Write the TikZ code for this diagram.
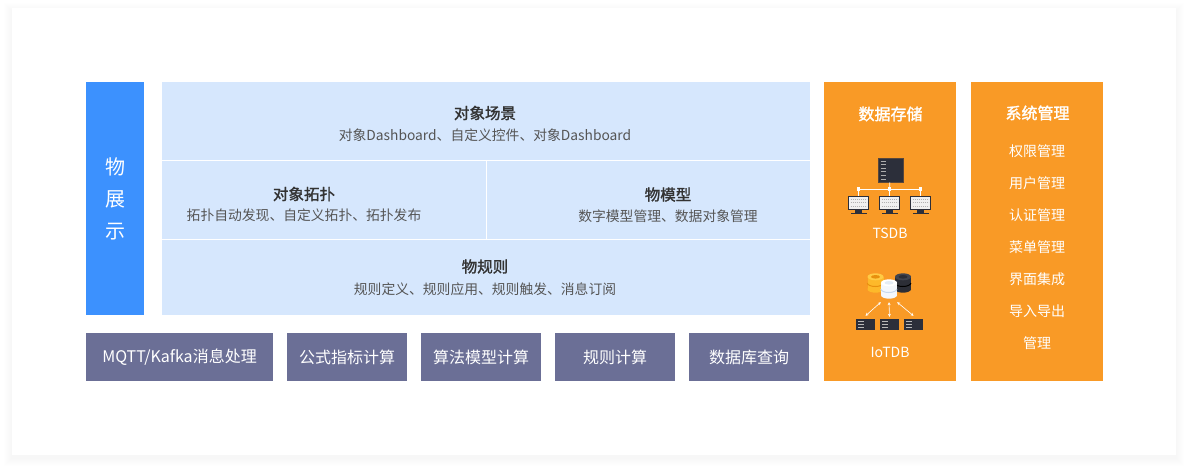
\documentclass[tikz,border=0pt]{standalone}
\usepackage{fontspec}
\setmainfont{Noto Sans CJK SC}
\newfontfamily\medfont[FakeBold=1.6]{Noto Sans CJK SC}
\usetikzlibrary{positioning,arrows.meta}
\definecolor{barblue}{HTML}{3C91FE}
\definecolor{panelblue}{HTML}{D6E7FD}
\definecolor{calcgray}{HTML}{6B6F96}
\definecolor{storeorange}{HTML}{F99A26}
\definecolor{titletext}{HTML}{333333}
\definecolor{subtext}{HTML}{555555}
\definecolor{devdark}{HTML}{2C2F3A}
\definecolor{cylyellow}{HTML}{FDB92A}
\definecolor{cylyellowtop}{HTML}{FFCB45}
\definecolor{cylyellowband}{HTML}{E8900E}
\definecolor{cylblack}{HTML}{2C2E36}
\definecolor{cylblacktop}{HTML}{41444E}
\definecolor{cylwhite}{HTML}{F4F7FB}
\definecolor{cylwhiteband}{HTML}{C7D8EC}
\begin{document}
\begin{tikzpicture}[x=1pt,y=-1pt,
  cell/.style={fill=panelblue, inner sep=0pt},
  head/.style={text=titletext, font=\fontsize{15.5}{18}\medfont, inner sep=0pt},
  sub/.style={text=subtext, font=\fontsize{13.8}{16}\selectfont, inner sep=0pt},
  calc/.style={fill=calcgray, text=white, minimum height=48pt, inner sep=0pt, font=\fontsize{16}{19}\selectfont},
  store/.style={fill=storeorange, minimum width=132pt, minimum height=299pt, inner sep=0pt},
  storehead/.style={text=white, font=\fontsize{16}{19}\medfont, inner sep=0pt},
  item/.style={text=white, font=\fontsize{14}{17}\selectfont, inner sep=0pt},
  screen/.style={fill=gray!12, draw=devdark, line width=1.2pt, minimum width=20pt, minimum height=13pt, inner sep=0pt},
  rack/.style={fill=devdark, minimum width=19pt, minimum height=11pt, inner sep=0pt},
  cylbody/.style={minimum width=16pt, minimum height=12pt, inner sep=0pt},
  conn/.style={white, line width=0.7pt}]
\useasboundingbox (0,0) rectangle (1188,471);
\fill[white] (0,0) rectangle (1188,471);
\foreach \s in {1,...,8}
  \fill[black, opacity=0.0045] (12-\s,8-\s+3) rectangle (1176+\s,455+\s+3);
\fill[white] (12,8) rectangle (1176,455);

\node[fill=barblue, minimum width=58pt, minimum height=233pt, inner sep=0pt, text=white, align=center, font=\fontsize{20}{32}\selectfont] (show) at (115,198.5) {物\\展\\示};

\node[cell, minimum width=648pt, minimum height=78pt] (scene) at (486,121) {};
\node[cell, minimum width=324pt, minimum height=80pt] (topo) at (324,200) {};
\node[cell, minimum width=324pt, minimum height=80pt] (model) at (648,200) {};
\node[cell, minimum width=648pt, minimum height=75pt] (rule) at (486,277.5) {};
\draw[white, line width=1pt] (scene.south west) -- (scene.south east);
\draw[white, line width=1pt] (rule.north west) -- (rule.north east);
\draw[white, line width=1pt] (topo.north east) -- (topo.south east);

\node[head] (sceneT) at (485,113) {对象场景};
\node[sub] (sceneS) at (485,135) {对象Dashboard、自定义控件、对象Dashboard};
\node[head] (topoT) at (304,194) {对象拓扑};
\node[sub] (topoS) at (304,215.5) {拓扑自动发现、自定义拓扑、拓扑发布};
\node[head] (modelT) at (668,194.5) {物模型};
\node[sub] (modelS) at (668,216) {数字模型管理、数据对象管理};
\node[head] (ruleT) at (485,266.5) {物规则};
\node[sub] (ruleS) at (485,289) {规则定义、规则应用、规则触发、消息订阅};

\node[calc, minimum width=187pt] (mqtt) at (179.5,357) {MQTT/Kafka消息处理};
\node[calc, minimum width=120pt] (formula) at (347,357) {公式指标计算};
\node[calc, minimum width=120pt] (algo) at (481,357) {算法模型计算};
\node[calc, minimum width=120pt] (rulecalc) at (615,357) {规则计算};
\node[calc, minimum width=120pt] (dbquery) at (749,357) {数据库查询};

\node[store] (storage) at (890,231.5) {};
\node[store] (system) at (1037,231.5) {};
\node[storehead] (storageT) at (890.5,114) {数据存储};
\node[storehead] (systemT) at (1037.5,113) {系统管理};
\foreach \t [count=\i] in {权限管理,用户管理,认证管理,菜单管理,界面集成,导入导出,管理}
  \node[item] (sys\i) at (1037,119+32*\i) {\t};

\node[fill=devdark, draw=devdark!70!brown, line width=0.6pt, minimum width=25pt, minimum height=24pt, inner sep=0pt] (srv) at (890.5,170) {};
\foreach \r in {0,...,5}
  \draw[gray!65, line width=0.9pt] (880.5,161+3.6*\r) -- (886,161+3.6*\r);
\coordinate (j1) at (858.5,189);
\coordinate (j2) at (889.5,189);
\coordinate (j3) at (920.5,189);
\foreach \i/\x in {1/858.5,2/889.5,3/920.5} {
  \node[screen] (mon\i) at (\x,203) {};
  \foreach \r in {0,1,2}
    \draw[gray!60, line width=0.9pt, dash pattern=on 1.3pt off 0.7pt] (\x-8,199+3.5*\r) -- (\x+8,199+3.5*\r);
  \fill[devdark] (\x-3.5,210) rectangle (\x+3.5,212.5);
  \fill[devdark] (\x-8,212.5) rectangle (\x+8,214);
}
\draw[conn] (srv) -- (j2);
\draw[conn] (j1) -- (j3);
\foreach \i in {1,2,3}
  \draw[conn] (j\i) -- (mon\i);
\foreach \i in {1,2,3}
  \fill[white] (j\i) +(-1.8,-1.8) rectangle +(1.8,1.8);
\node[item] (tsdb) at (890,233) {TSDB};

\node[cylbody, fill=cylyellow] (dbo) at (875.5,283) {};
\fill[cylyellow] (dbo.south) ellipse [x radius=8, y radius=3.5];
\draw[cylyellowband, line width=1pt] (dbo.west) arc [start angle=180, end angle=0, x radius=8, y radius=3.5];
\fill[cylyellowtop] (dbo.north) ellipse [x radius=8, y radius=3.5];
\fill[cylyellowband] (dbo.north) ellipse [x radius=4.5, y radius=1.8];
\node[cylbody, fill=cylblack] (dbk) at (903,283) {};
\fill[cylblack] (dbk.south) ellipse [x radius=8, y radius=3.5];
\draw[black, line width=1pt] (dbk.west) arc [start angle=180, end angle=0, x radius=8, y radius=3.5];
\fill[cylblacktop] (dbk.north) ellipse [x radius=8, y radius=3.5];
\fill[cylblack] (dbk.north) ellipse [x radius=4.5, y radius=1.8];
\node[cylbody, fill=cylwhite] (dbw) at (889,289) {};
\fill[cylwhite] (dbw.south) ellipse [x radius=8, y radius=3.5];
\draw[cylwhiteband, line width=1pt] (dbw.west) arc [start angle=180, end angle=0, x radius=8, y radius=3.5];
\fill[white] (dbw.north) ellipse [x radius=8, y radius=3.5];
\fill[cylwhiteband!50] (dbw.north) ellipse [x radius=4.5, y radius=1.8];

\foreach \i/\x in {1/865.5,2/889.5,3/913.5} {
  \node[rack] (iot\i) at (\x,324.5) {};
  \foreach \r in {0,1,2}
    \draw[gray!55, line width=0.8pt] (\x-7.5,321.5+2.8*\r) -- (\x-2,321.5+2.8*\r);
}
\draw[conn, line width=0.6pt, {Stealth[length=3pt,width=3pt]}-{Stealth[length=3pt,width=3pt]}] ([yshift=-7pt]dbw.south west) -- ([yshift=3pt]iot1.north);
\draw[conn, line width=0.6pt, {Stealth[length=3pt,width=3pt]}-{Stealth[length=3pt,width=3pt]}] ([yshift=-7pt]dbw.south) -- ([yshift=2pt]iot2.north);
\draw[conn, line width=0.6pt, {Stealth[length=3pt,width=3pt]}-{Stealth[length=3pt,width=3pt]}] ([yshift=-7pt]dbw.south east) -- ([yshift=3pt]iot3.north);
\node[item] (iotdb) at (890,352) {IoTDB};
\end{tikzpicture}
\end{document}
